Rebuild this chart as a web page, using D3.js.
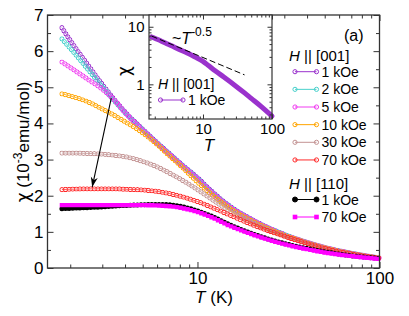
<!DOCTYPE html>
<html>
<head>
<meta charset="utf-8">
<script src="https://cdn.jsdelivr.net/npm/d3@7"></script>
<style>
body { margin: 0; background: #fff; }
svg { font-family: "Liberation Sans", Arial, sans-serif; }
</style>
</head>
<body>
<svg id="chart" width="409" height="316"></svg>
<script>
const temps = [1.8, 2, 2.5, 3, 3.5, 4, 5, 6, 7, 8, 10, 12, 15, 20, 30, 40, 50, 70, 100]

// H || [001]
const chi001_1k  = [6.65, 6.3, 5.62, 5.08, 4.66, 4.32, 3.84, 3.47, 3.17, 2.91, 2.5, 2.12, 1.72, 1.34, 0.93, 0.71, 0.57, 0.41, 0.28]
const chi001_2k  = [6.34, 6.08, 5.5, 5.02, 4.62, 4.3, 3.83, 3.46, 3.16, 2.9, 2.48, 2.1, 1.71, 1.33, 0.93, 0.71, 0.57, 0.41, 0.28]
const chi001_5k  = [5.7, 5.55, 5.22, 4.95, 4.64, 4.3, 3.82, 3.45, 3.15, 2.89, 2.47, 2.09, 1.7, 1.33, 0.92, 0.71, 0.57, 0.41, 0.28]
const chi001_10k = [4.82, 4.76, 4.6, 4.4, 4.22, 4.05, 3.74, 3.42, 3.11, 2.85, 2.38, 2.03, 1.66, 1.3, 0.91, 0.7, 0.56, 0.4, 0.28]
const chi001_30k = [3.18, 3.18, 3.17, 3.15, 3.12, 3.08, 2.95, 2.8, 2.63, 2.47, 2.17, 1.9, 1.58, 1.25, 0.89, 0.69, 0.55, 0.4, 0.27]
const chi001_70k = [2.17, 2.18, 2.19, 2.19, 2.19, 2.18, 2.16, 2.12, 2.06, 1.99, 1.84, 1.68, 1.47, 1.2, 0.88, 0.68, 0.54, 0.39, 0.27]
// H || [110]
const chi110_1k  = [1.64, 1.65, 1.67, 1.69, 1.71, 1.73, 1.75, 1.76, 1.75, 1.71, 1.58, 1.43, 1.2, 0.95, 0.68, 0.54, 0.45, 0.34, 0.26]
const chi110_70k = [1.74, 1.74, 1.74, 1.74, 1.74, 1.74, 1.74, 1.73, 1.71, 1.67, 1.55, 1.4, 1.17, 0.93, 0.66, 0.52, 0.43, 0.33, 0.25]

const labels001 = ['1 kOe', '2 kOe', '5 kOe', '10 kOe', '30 kOe', '70 kOe']
const colors001 = ['#9a32cd', '#48d1cc', '#f03cf0', '#ffa500', '#c39393', '#ff2a2a']
const labels110 = ['1 kOe', '70 kOe']
const colors110 = ['#000000', '#ff00ff']

// guide line ~T^-0.5 (endpoints) and arrow (from -> to), data coords
const guideT = [1.8, 40]
const guideChi = [6.9, 1.46]
const arrowT = [3.36, 2.64]
const arrowChi = [4.7, 2.24]

const xMajor = [10, 100]
const xMinor = [2, 3, 4, 5, 6, 7, 8, 9, 20, 30, 40, 50, 60, 70, 80, 90]
const yMajor = [0, 1, 2, 3, 4, 5, 6, 7]
const yMinor = [0.5, 1.5, 2.5, 3.5, 4.5, 5.5, 6.5]
const inYMajor = [1, 10]
const inYMinor = [0.3, 0.4, 0.5, 0.6, 0.7, 0.8, 0.9, 2, 3, 4, 5, 6, 7, 8, 9]

const svg = d3.select('#chart')
const defs = svg.append('defs')

const pL = 47.5, pR = 379.5, pT = 15, pB = 268
const x = d3.scaleLog().domain([1.5, 100]).range([pL, pR])
const y = d3.scaleLinear().domain([0, 7]).range([pB, pT])

const axisColor = '#333'
const chiFont = '"DejaVu Sans", sans-serif'

let maskCount = 0
// open circles drawn with a dotted stroke and a mask
const ringPath = (g, d, color, gap) => {
    const id = 'ring' + (maskCount++)
    const m = defs.append('mask').attr('id', id)
        .attr('maskUnits', 'userSpaceOnUse')
        .attr('x', 0).attr('y', 0).attr('width', 409).attr('height', 316)
    m.append('path').attr('d', d).attr('fill', 'none')
        .attr('stroke', '#fff').attr('stroke-width', 5.2)
        .attr('stroke-dasharray', `0 ${gap}`).attr('stroke-linecap', 'round')
    m.append('path').attr('d', d).attr('fill', 'none')
        .attr('stroke', '#000').attr('stroke-width', 3.2)
        .attr('stroke-dasharray', `0 ${gap}`).attr('stroke-linecap', 'round')
    g.append('path').attr('d', d).attr('fill', 'none')
        .attr('stroke', color).attr('stroke-width', 0.8)
    g.append('path').attr('d', d).attr('fill', 'none')
        .attr('stroke', color).attr('stroke-width', 5.2)
        .attr('stroke-dasharray', `0 ${gap}`).attr('stroke-linecap', 'round')
        .attr('mask', `url(#${id})`)
}

const filledPath = (g, d, color, cap, gap) => {
    g.append('path').attr('d', d).attr('fill', 'none')
        .attr('stroke', color).attr('stroke-width', 1.2)
    g.append('path').attr('d', d).attr('fill', 'none')
        .attr('stroke', color).attr('stroke-width', cap === 'round' ? 5 : 4.4)
        .attr('stroke-dasharray', `0 ${gap}`).attr('stroke-linecap', cap)
}

const line = (sx, sy) => d3.line()
    .x(d => sx(d[0]))
    .y(d => sy(d[1]))
    .curve(d3.curveMonotoneX)

const zipT = vals => temps.map((t, i) => [t, vals[i]])

// ---- main plot curves
const plot = svg.append('g')
const series001 = [chi001_1k, chi001_2k, chi001_5k, chi001_10k, chi001_30k, chi001_70k]
series001.forEach((vals, i) => {
    ringPath(plot, line(x, y)(zipT(vals)), colors001[i], 3.6)
})
filledPath(plot, line(x, y)(zipT(chi110_1k)), colors110[0], 'round', 3.6)
filledPath(plot, line(x, y)(zipT(chi110_70k)), colors110[1], 'square', 3.6)

// ---- main axes
const drawTicks = (axisFn, scale, vals, size, pos, withLabels, pad, fs) => {
    const a = axisFn(scale).tickValues(vals).tickSizeInner(-size).tickSizeOuter(0)
        .tickPadding(pad)
        .tickFormat(withLabels ? d3.format('d') : '')
    const g = svg.append('g').attr('transform', pos).call(a)
    g.select('.domain').remove()
    g.selectAll('line').attr('stroke', axisColor).attr('stroke-width', 1)
    g.selectAll('text').attr('font-size', fs).attr('fill', '#000')
        .attr('font-family', '"Liberation Sans", Arial, sans-serif')
    return g
}

drawTicks(d3.axisBottom, x, xMajor, 6, `translate(0,${pB})`, true, 4, 17)
drawTicks(d3.axisBottom, x, xMinor, 3.5, `translate(0,${pB})`, false, 4, 17)
drawTicks(d3.axisTop, x, xMajor, 6, `translate(0,${pT})`, false, 4, 17)
drawTicks(d3.axisTop, x, xMinor, 3.5, `translate(0,${pT})`, false, 4, 17)
drawTicks(d3.axisLeft, y, yMajor, 6, `translate(${pL},0)`, true, 4, 17)
drawTicks(d3.axisLeft, y, yMinor, 3.5, `translate(${pL},0)`, false, 4, 17)
drawTicks(d3.axisRight, y, yMajor, 6, `translate(${pR},0)`, false, 4, 17)
drawTicks(d3.axisRight, y, yMinor, 3.5, `translate(${pR},0)`, false, 4, 17)

svg.append('rect')
    .attr('x', pL).attr('y', pT)
    .attr('width', pR - pL).attr('height', pB - pT)
    .attr('fill', 'none').attr('stroke', axisColor).attr('stroke-width', 1.3)

// axis titles
const xt = svg.append('text').attr('x', 214).attr('y', 303)
    .attr('text-anchor', 'middle').attr('font-size', 17)
xt.append('tspan').attr('font-style', 'italic').text('T')
xt.append('tspan').text(' (K)')

const yt = svg.append('text')
    .attr('transform', 'translate(29,142) rotate(-90)')
    .attr('text-anchor', 'middle').attr('font-size', 17)
yt.append('tspan').attr('font-family', chiFont).text('χ')
yt.append('tspan').text(' (10')
yt.append('tspan').attr('font-size', 12).attr('dy', -7).text('-3')
yt.append('tspan').attr('dy', 7).text('emu/mol)')

// arrow
defs.append('marker').attr('id', 'head')
    .attr('viewBox', '-10 -5 12 10').attr('refX', 0).attr('refY', 0)
    .attr('markerWidth', 12).attr('markerHeight', 10)
    .attr('markerUnits', 'userSpaceOnUse')
    .attr('orient', 'auto')
    .append('path').attr('d', 'M0,0 L-10,-3.5 L-7,0 L-10,3.5 Z').attr('fill', '#000')

svg.append('line')
    .attr('x1', x(arrowT[0])).attr('y1', y(arrowChi[0]))
    .attr('x2', x(arrowT[1])).attr('y2', y(arrowChi[1]))
    .attr('stroke', '#000').attr('stroke-width', 1.1)
    .attr('marker-end', 'url(#head)')

// ---- legend
svg.append('text').attr('x', 344).attr('y', 41).attr('font-size', 16).text('(a)')

const legendHeader = (lx, ly, txt, fs) => {
    const t = svg.append('text').attr('x', lx).attr('y', ly).attr('font-size', fs)
    t.append('tspan').attr('font-style', 'italic').text('H')
    t.append('tspan').text(' || ' + txt)
}
legendHeader(289, 61, '[001]', 15)
legendHeader(289, 189, '[110]', 15)

const legendRow = (ly, label, color, kind, x1, x2, fs) => {
    svg.append('line').attr('x1', x1).attr('x2', x2).attr('y1', ly).attr('y2', ly)
        .attr('stroke', color).attr('stroke-width', 1)
    ;[x1, x2].forEach(px => {
        if (kind === 'square') {
            svg.append('rect').attr('x', px - 2.3).attr('y', ly - 2.3)
                .attr('width', 4.6).attr('height', 4.6).attr('fill', color)
        } else {
            svg.append('circle').attr('cx', px).attr('cy', ly).attr('r', kind === 'open' ? 2.1 : 2.5)
                .attr('fill', kind === 'open' ? 'none' : color)
                .attr('stroke', color).attr('stroke-width', 1)
        }
    })
    svg.append('text').attr('x', x2 + 5).attr('y', ly + 5)
        .attr('font-size', fs).text(label)
}
labels001.forEach((lab, i) => {
    legendRow(71.7 + i * 17.65, lab, colors001[i], 'open', 295, 316.5, 14)
})
legendRow(199.5, labels110[0], colors110[0], 'filled', 295, 316.5, 14)
legendRow(217, labels110[1], colors110[1], 'square', 295, 316.5, 14)

// ---- inset
const iL = 149, iR = 272, iT = 15, iB = 119
const x2 = d3.scaleLog().domain([1.65, 100]).range([iL, iR])
const y2 = d3.scaleLog().domain([0.25, 16]).range([iB, iT])

svg.append('rect').attr('x', iL).attr('y', iT)
    .attr('width', iR - iL).attr('height', iB - iT).attr('fill', '#fff')

const inset = svg.append('g')
// markers are so dense in the inset that they read as a solid band
inset.append('path')
    .attr('d', line(x2, y2)(zipT(chi001_1k)))
    .attr('fill', 'none').attr('stroke', colors001[0])
    .attr('stroke-width', 5).attr('stroke-linecap', 'round')

inset.append('line')
    .attr('x1', x2(guideT[0])).attr('y1', y2(guideChi[0]))
    .attr('x2', x2(guideT[1])).attr('y2', y2(guideChi[1]))
    .attr('stroke', '#000').attr('stroke-width', 1)
    .attr('stroke-dasharray', '6,3')

drawTicks(d3.axisBottom, x2, xMajor, 4.5, `translate(0,${iB})`, true, 4.5, 15)
drawTicks(d3.axisBottom, x2, xMinor, 2.5, `translate(0,${iB})`, false, 4, 15)
drawTicks(d3.axisTop, x2, xMajor, 4.5, `translate(0,${iT})`, false, 4, 15)
drawTicks(d3.axisTop, x2, xMinor, 2.5, `translate(0,${iT})`, false, 4, 15)
drawTicks(d3.axisLeft, y2, inYMajor, 4.5, `translate(${iL},0)`, true, 4.5, 15)
drawTicks(d3.axisLeft, y2, inYMinor, 2.5, `translate(${iL},0)`, false, 4, 15)
drawTicks(d3.axisRight, y2, inYMajor, 4.5, `translate(${iR},0)`, false, 4, 15)
drawTicks(d3.axisRight, y2, inYMinor, 2.5, `translate(${iR},0)`, false, 4, 15)

svg.append('rect').attr('x', iL).attr('y', iT)
    .attr('width', iR - iL).attr('height', iB - iT)
    .attr('fill', 'none').attr('stroke', axisColor).attr('stroke-width', 1.2)

svg.append('text').attr('x', 209).attr('y', 151)
    .attr('text-anchor', 'middle').attr('font-size', 17)
    .attr('font-style', 'italic').text('T')
svg.append('text').attr('transform', 'translate(130,71) rotate(-90)')
    .attr('text-anchor', 'middle').attr('font-size', 17)
    .attr('font-family', chiFont).text('χ')

const gl = svg.append('text').attr('x', 172).attr('y', 44).attr('font-size', 16)
gl.append('tspan').text('~')
gl.append('tspan').attr('font-style', 'italic').text('T')
gl.append('tspan').attr('font-size', 12).attr('dy', -8).text('-0.5')

legendHeader(158, 89, '[001]', 14)
legendRow(100, '1 kOe', colors001[0], 'open', 160.5, 183, 14)
</script>
</body>
</html>
